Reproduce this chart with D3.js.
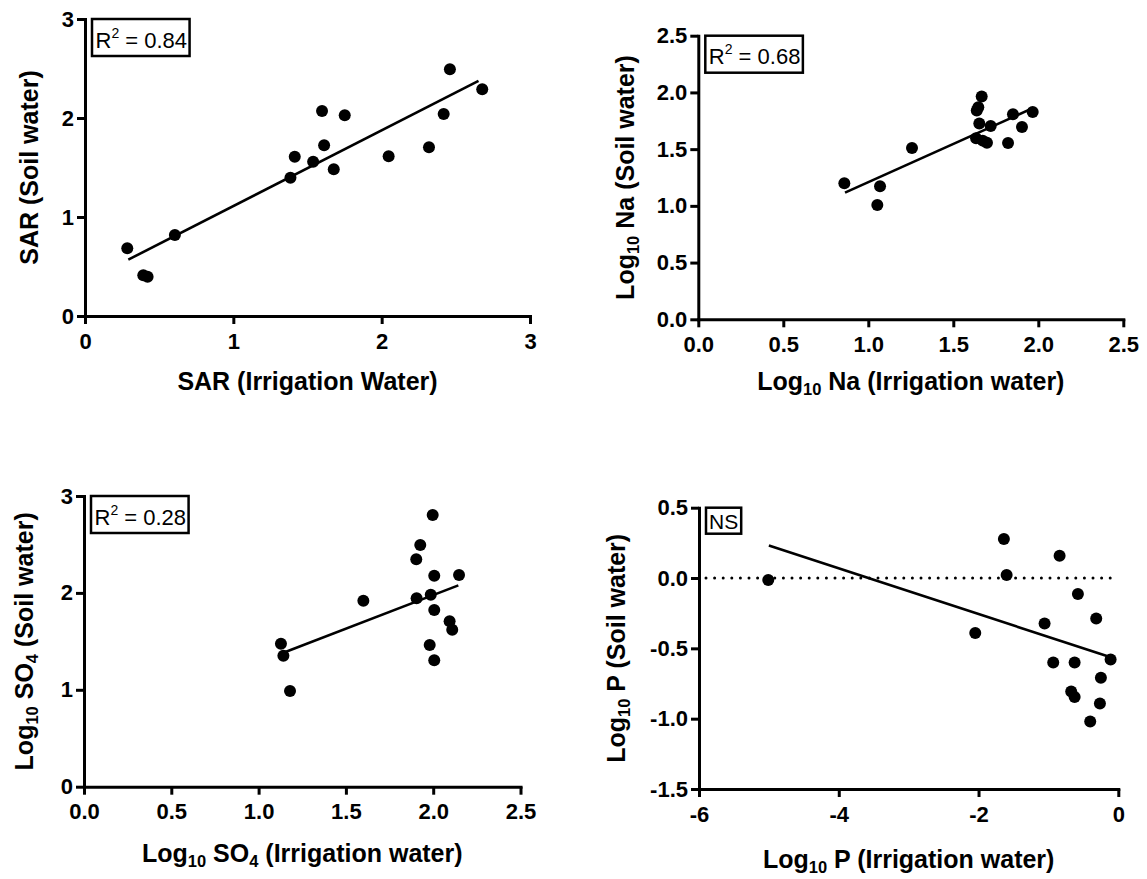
<!DOCTYPE html>
<html>
<head>
<meta charset="utf-8">
<script src="https://cdn.jsdelivr.net/npm/d3@7"></script>
<style>
  body { margin: 0; background: #fff; }
  svg { display: block; }
  text { font-family: "Liberation Sans", Arial, Helvetica, sans-serif; fill: #000; }
</style>
</head>
<body>
<svg id="chart" width="1147" height="879"></svg>
<script>
// ---- SAR: irrigation water vs soil water ----
const sarIrrigation = [0.285, 0.393, 0.422, 0.606, 1.385, 1.414, 1.538, 1.598, 1.612, 1.677, 1.751, 2.047, 2.319, 2.418, 2.460, 2.678];
const sarSoil       = [0.684, 0.411, 0.397, 0.818, 1.397, 1.609, 1.559, 2.071, 1.724, 1.482, 2.027, 1.613, 1.704, 2.040, 2.492, 2.290];

// ---- log10 Na ----
const naIrrigation = [0.859, 1.053, 1.069, 1.257, 1.667, 1.647, 1.638, 1.653, 1.720, 1.634, 1.673, 1.698, 1.822, 1.851, 1.904, 1.967];
const naSoil       = [1.199, 1.008, 1.173, 1.511, 1.963, 1.869, 1.840, 1.725, 1.705, 1.596, 1.575, 1.557, 1.555, 1.808, 1.696, 1.828];

// ---- log10 SO4 ----
const so4Irrigation = [1.128, 1.142, 1.180, 1.600, 1.905, 1.903, 1.926, 1.997, 2.006, 1.986, 2.006, 1.980, 2.006, 2.094, 2.109, 2.148];
const so4Soil       = [1.476, 1.352, 0.988, 1.920, 1.944, 2.347, 2.494, 2.804, 2.178, 1.981, 1.824, 1.462, 1.304, 1.707, 1.620, 2.185];

// ---- log10 P ----
const pIrrigation = [-5.009, -1.637, -1.598, -2.047, -0.840, -0.578, -1.055, -0.316, -0.931, -0.625, -0.110, -0.249, -0.674, -0.625, -0.263, -0.402];
const pSoil       = [-0.014, 0.277, 0.021, -0.391, 0.159, -0.114, -0.323, -0.287, -0.600, -0.600, -0.579, -0.709, -0.806, -0.846, -0.892, -1.020];

// Linear fits (slope, intercept), the x span each fit is drawn over, and fit statistics
const fitSlopes     = [0.7645, 0.674, 0.694, -0.1623];
const fitIntercepts = [0.346, 0.535, 0.590, -0.581];
const fitXStart     = [0.292, 0.863, 1.142, -5.0];
const fitXEnd       = [2.653, 1.961, 2.144, -0.13];
const fitR2Labels   = ["0.84", "0.68", "0.28", null];   // null -> not significant

// Tick values and labels
const sarTicks = [0, 1, 2, 3];
const sarTickLabels = ["0", "1", "2", "3"];
const logTicks = [0, 0.5, 1.0, 1.5, 2.0, 2.5];
const logTickLabels = ["0.0", "0.5", "1.0", "1.5", "2.0", "2.5"];
const so4YTicks = [0, 1, 2, 3];
const so4YTickLabels = ["0", "1", "2", "3"];
const pXTicks = [-6, -4, -2, 0];
const pXTickLabels = ["-6", "-4", "-2", "0"];
const pYTicks = [-1.5, -1.0, -0.5, 0.0, 0.5];
const pYTickLabels = ["-1.5", "-1.0", "-0.5", "0.0", "0.5"];

const svg = d3.select("#chart");

const TICK_FONT = 22, TITLE_FONT = 25, SUB_FONT = 16.5;

const panels = [
  {
    xs: sarIrrigation, ys: sarSoil, fit: 0,
    xDomain: [0, 3], yDomain: [0, 3],
    xRange: [85, 530], yRange: [316, 19],
    xTicks: sarTicks, xLabels: sarTickLabels, yTicks: sarTicks, yLabels: sarTickLabels,
    xTitle: [{t: "SAR (Irrigation Water)"}],
    yTitle: [{t: "SAR (Soil water)"}],
    xTitleDy: 74, yTitleX: 38
  },
  {
    xs: naIrrigation, ys: naSoil, fit: 1,
    xDomain: [0, 2.5], yDomain: [0, 2.5],
    xRange: [698.3, 1123.3], yRange: [319.3, 35.7],
    xTicks: logTicks, xLabels: logTickLabels, yTicks: logTicks, yLabels: logTickLabels,
    xTitle: [{t: "Log"}, {t: "10", sub: true}, {t: " Na (Irrigation water)"}],
    yTitle: [{t: "Log"}, {t: "10", sub: true}, {t: " Na (Soil water)"}],
    xTitleDy: 71, yTitleX: 634
  },
  {
    xs: so4Irrigation, ys: so4Soil, fit: 2,
    xDomain: [0, 2.5], yDomain: [0, 3],
    xRange: [84, 520.5], yRange: [786.7, 496],
    xTicks: logTicks, xLabels: logTickLabels, yTicks: so4YTicks, yLabels: so4YTickLabels,
    xTitle: [{t: "Log"}, {t: "10", sub: true}, {t: " SO"}, {t: "4", sub: true}, {t: " (Irrigation water)"}],
    yTitle: [{t: "Log"}, {t: "10", sub: true}, {t: " SO"}, {t: "4", sub: true}, {t: " (Soil water)"}],
    xTitleDy: 75, yTitleX: 33
  },
  {
    xs: pIrrigation, ys: pSoil, fit: 3,
    xDomain: [-6, 0], yDomain: [-1.5, 0.5],
    xRange: [699, 1118.3], yRange: [789, 507.7],
    xTicks: pXTicks, xLabels: pXTickLabels, yTicks: pYTicks, yLabels: pYTickLabels,
    xTitle: [{t: "Log"}, {t: "10", sub: true}, {t: " P (Irrigation water)"}],
    yTitle: [{t: "Log"}, {t: "10", sub: true}, {t: " P (Soil water)"}],
    xTitleDy: 79, yTitleX: 625,
    zeroLine: true
  }
];

// Writes a label made of normal and subscript runs into a text element
function richText(textSel, parts) {
  let lowered = false;
  parts.forEach(p => {
    const ts = textSel.append("tspan").text(p.t);
    if (p.sub) {
      ts.attr("font-size", SUB_FONT).attr("dy", lowered ? 0 : 5);
      lowered = true;
    } else {
      if (lowered) ts.attr("dy", -5);
      lowered = false;
    }
  });
}

panels.forEach(P => {
  const x = d3.scaleLinear().domain(P.xDomain).range(P.xRange);
  const y = d3.scaleLinear().domain(P.yDomain).range(P.yRange);
  const g = svg.append("g");

  // dotted reference line at zero
  if (P.zeroLine) {
    g.append("line")
      .attr("x1", x(P.xDomain[0])).attr("x2", x(P.xDomain[1]))
      .attr("y1", y(0)).attr("y2", y(0))
      .attr("stroke", "#000").attr("stroke-width", 3)
      .attr("stroke-linecap", "round")
      .attr("stroke-dasharray", "0 8.6")
      .attr("stroke-dashoffset", -7);
  }

  // regression line
  const slope = fitSlopes[P.fit], intercept = fitIntercepts[P.fit];
  const xa = fitXStart[P.fit], xb = fitXEnd[P.fit];
  g.append("line")
    .attr("x1", x(xa)).attr("y1", y(slope * xa + intercept))
    .attr("x2", x(xb)).attr("y2", y(slope * xb + intercept))
    .attr("stroke", "#000").attr("stroke-width", 2.6);

  // points
  g.selectAll("circle.pt")
    .data(P.xs.map((v, i) => [v, P.ys[i]]))
    .join("circle")
    .attr("class", "pt")
    .attr("cx", d => x(d[0])).attr("cy", d => y(d[1]))
    .attr("r", 6).attr("fill", "#000");

  // axes
  const xAxis = d3.axisBottom(x).tickValues(P.xTicks)
    .tickFormat((d, i) => P.xLabels[i]).tickSize(8).tickSizeOuter(0).tickPadding(9);
  const yAxis = d3.axisLeft(y).tickValues(P.yTicks)
    .tickFormat((d, i) => P.yLabels[i]).tickSize(8).tickSizeOuter(0).tickPadding(3);

  const gx = g.append("g").attr("transform", `translate(0,${P.yRange[0]})`).call(xAxis);
  const gy = g.append("g").attr("transform", `translate(${P.xRange[0]},0)`).call(yAxis);
  [gx, gy].forEach(a => {
    a.select(".domain").attr("stroke", "#000").attr("stroke-width", 3).attr("stroke-linecap", "square");
    a.selectAll(".tick line").attr("stroke", "#000").attr("stroke-width", 3);
    a.selectAll(".tick text")
      .attr("font-size", TICK_FONT).attr("font-weight", "bold")
      .attr("font-family", "'Liberation Sans', Arial, sans-serif").attr("fill", "#000");
  });

  // axis titles
  const xt = g.append("text")
    .attr("x", (P.xRange[0] + P.xRange[1]) / 2)
    .attr("y", P.yRange[0] + P.xTitleDy)
    .attr("text-anchor", "middle")
    .attr("font-size", TITLE_FONT).attr("font-weight", "bold");
  richText(xt, P.xTitle);

  const yt = g.append("text")
    .attr("transform", `translate(${P.yTitleX},${(P.yRange[0] + P.yRange[1]) / 2}) rotate(-90)`)
    .attr("text-anchor", "middle")
    .attr("font-size", TITLE_FONT).attr("font-weight", "bold");
  richText(yt, P.yTitle);

  // statistic box in the upper-left corner
  const r2 = fitR2Labels[P.fit];
  const bx = P.xRange[0] + 7, by = P.yRange[1];
  const box = g.append("g");
  const rect = box.append("rect").attr("fill", "#fff").attr("stroke", "#000").attr("stroke-width", 2.5);
  let label;
  if (r2 !== null) {
    label = box.append("text").attr("x", bx + 3.5).attr("y", by + 28.5).attr("font-size", 22);
    label.append("tspan").text("R");
    label.append("tspan").text("2").attr("font-size", 14).attr("dy", -10);
    label.append("tspan").text(" = " + r2).attr("dy", 10);
    const bb = label.node().getBBox();
    rect.attr("x", bx).attr("y", by).attr("width", bb.width + 6).attr("height", 37);
  } else {
    label = box.append("text").attr("x", bx + 3).attr("y", by + 21.7).attr("font-size", 21).text("NS");
    const bb = label.node().getBBox();
    rect.attr("x", bx).attr("y", by).attr("width", bb.width + 6).attr("height", 26);
  }
});
</script>
</body>
</html>
